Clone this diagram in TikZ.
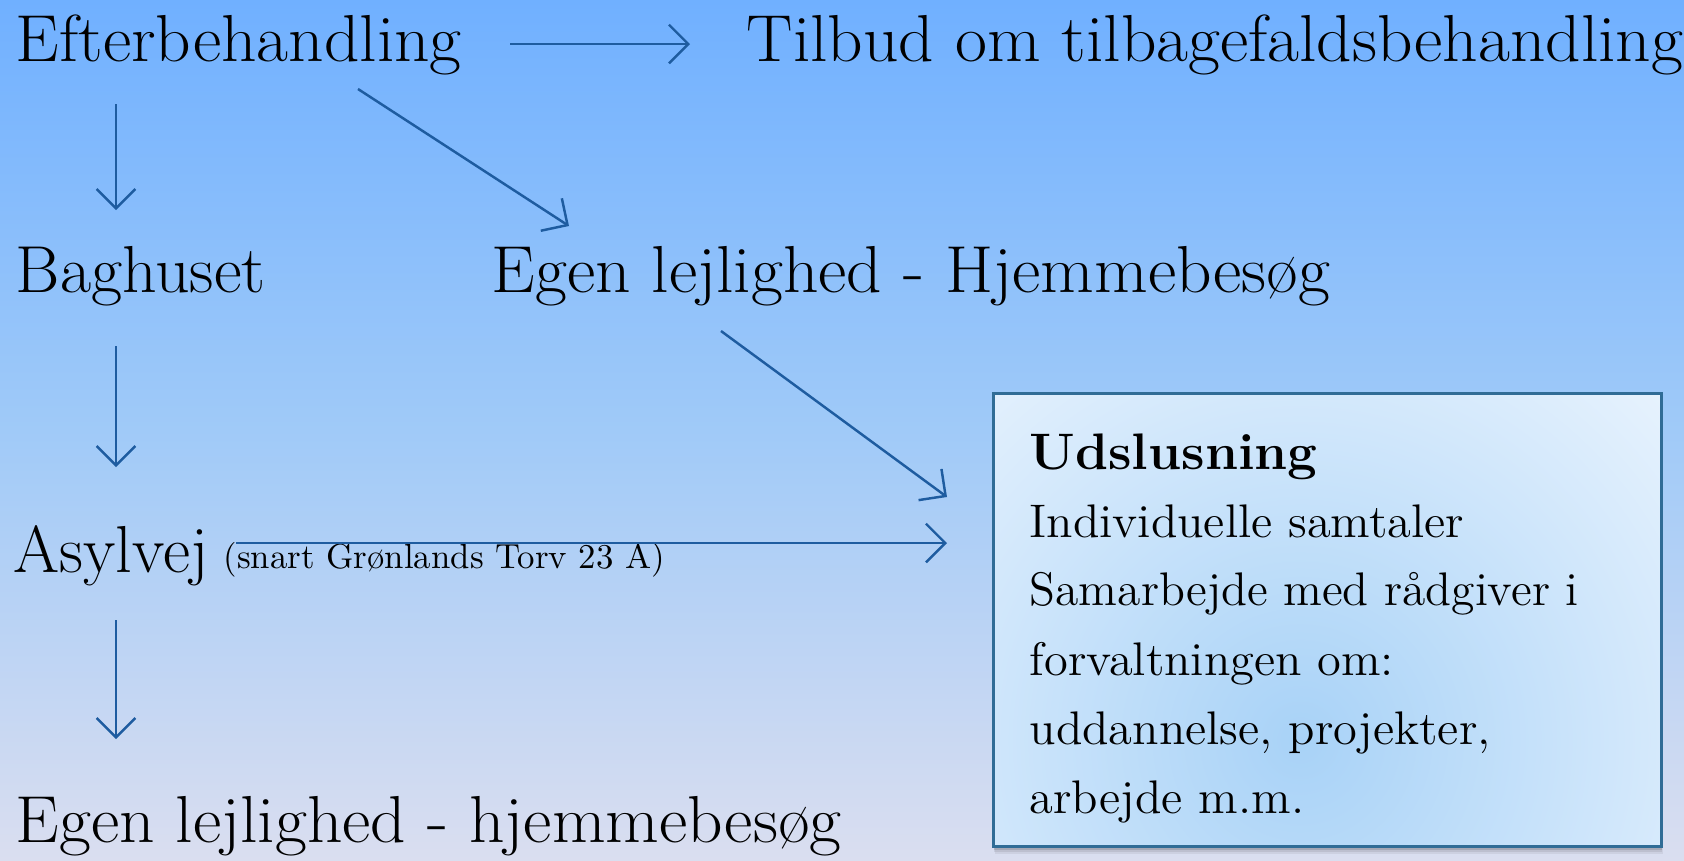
\documentclass[tikz,border=0pt]{standalone}
\usetikzlibrary{arrows.meta}
\definecolor{arrowblue}{RGB}{30,92,160}
\definecolor{bgtop}{RGB}{112,176,255}
\definecolor{bgmid}{RGB}{160,202,248}
\definecolor{bgbot}{RGB}{218,222,240}
\definecolor{boxborder}{RGB}{48,108,150}
\definecolor{boxin}{RGB}{168,210,247}
\definecolor{boxout}{RGB}{238,246,254}
\newcommand\myhs[2]{\scalebox{#1}[1]{#2}}
\begin{document}
\begin{tikzpicture}[x=0.01cm,y=-0.01cm,
  conn/.style={draw=arrowblue, line width=0.7pt, -{Straight Barb[length=5.5pt,width=11pt]}},
  big/.style={anchor=base west, inner sep=0pt, font=\fontsize{18.9pt}{22pt}\selectfont},
  small/.style={anchor=base west, inner sep=0pt, font=\fontsize{9.9pt}{12pt}\selectfont},
  boxtxt/.style={anchor=base west, inner sep=0pt, font=\fontsize{13.4pt}{16pt}\selectfont},
  boxtitle/.style={anchor=base west, inner sep=0pt, font=\fontsize{14.6pt}{17pt}\selectfont\bfseries}]
\useasboundingbox (0,0) rectangle (1684,860);
% background
\shade[top color=bgtop, bottom color=bgbot, middle color=bgmid] (0,0) rectangle (1684,860);

% box shadow
\foreach \o/\op in {9/0.06,7/0.08,5/0.12,3/0.16}{
  \fill[black, opacity=\op] (992+\o*0.3,392+\o) rectangle (1660+\o*0.3,845+\o);
}
% box fill
\begin{scope}
  \clip (992,392) rectangle (1660,845);
  \shade[inner color=boxin, outer color=boxout] (1300,740) circle (560);
\end{scope}
\node[draw=boxborder, line width=0.8pt, anchor=north west, inner sep=0pt,
      minimum width=6.68cm, minimum height=4.53cm] (box) at (992,392) {};

% texts
\node[big] (eft) at (15,61) {\myhs{1.045}{Efterbehandling}};
\node[big] (tilb) at (746,61) {\myhs{1.045}{Tilbud om tilbagefaldsbehandling}};
\node[big] (bag) at (15,292) {\myhs{1.02}{Baghuset}};
\node[big] (egen1) at (491,292) {\myhs{1.045}{Egen lejlighed - Hjemmebes\o g}};
\node[big] (asyl) at (13,572) {\myhs{1.0}{Asylvej}};
\node[small] (snart) at (223,568) {(snart Gr\o nlands Torv 23 A)};
\node[big] (egen2) at (15,842) {\myhs{1.045}{Egen lejlighed - hjemmebes\o g}};

\node[boxtitle] (udsl) at (1029,469) {\myhs{1.03}{Udslusning}};
\node[boxtxt] (l1) at (1029,537) {\myhs{1.03}{Individuelle samtaler}};
\node[boxtxt] (l2) at (1029,605) {\myhs{1.01}{Samarbejde med r\aa dgiver i}};
\node[boxtxt] (l3) at (1029,675) {\myhs{1.03}{forvaltningen om:}};
\node[boxtxt] (l4) at (1029,744) {\myhs{1.03}{uddannelse, projekter,}};
\node[boxtxt] (l5) at (1029,813) {\myhs{1.03}{arbejde m.m.}};

% connector end points
\coordinate (e1s) at (510,44);  \coordinate (e1e) at (690,44);
\coordinate (d1s) at (116,104); \coordinate (d1e) at (116,210);
\coordinate (g1s) at (358,89);  \coordinate (g1e) at (569,226);
\coordinate (d2s) at (116,346); \coordinate (d2e) at (116,467);
\coordinate (g2s) at (721,331); \coordinate (g2e) at (947,497);
\coordinate (h1s) at (236,543); \coordinate (h1e) at (947,543);
\coordinate (d3s) at (116,620); \coordinate (d3e) at (116,739);

\draw[conn] (e1s) -- (e1e);
\draw[conn] (d1s) -- (d1e);
\draw[conn] (g1s) -- (g1e);
\draw[conn] (d2s) -- (d2e);
\draw[conn] (g2s) -- (g2e);
\draw[conn] (h1s) -- (h1e);
\draw[conn] (d3s) -- (d3e);
\end{tikzpicture}
\end{document}
